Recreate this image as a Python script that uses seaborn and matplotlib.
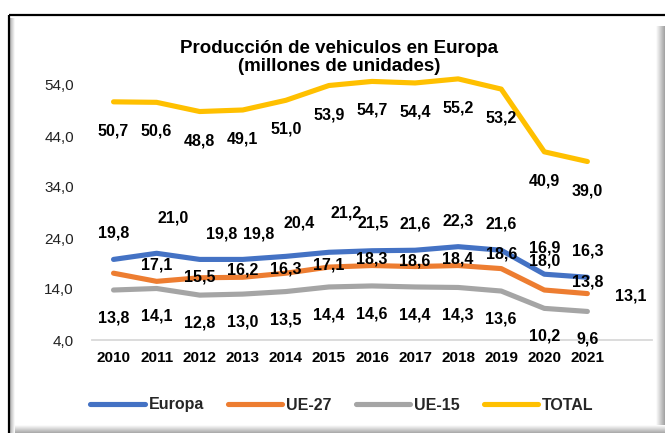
import numpy as np
import pandas as pd
import matplotlib
matplotlib.use("Agg")
import matplotlib.pyplot as plt
import seaborn as sns
from matplotlib.lines import Line2D

# ---- data ----
years = ["2010", "2011", "2012", "2013", "2014", "2015", "2016", "2017", "2018", "2019", "2020", "2021"]
europa = [19.8, 21.0, 19.8, 19.8, 20.4, 21.2, 21.5, 21.6, 22.3, 21.6, 16.9, 16.3]
ue27 = [17.1, 15.5, 16.2, 16.3, 17.1, 18.3, 18.6, 18.4, 18.6, 18.0, 13.8, 13.1]
ue15 = [13.8, 14.1, 12.8, 13.0, 13.5, 14.4, 14.6, 14.4, 14.3, 13.6, 10.2, 9.6]
total = [50.7, 50.6, 48.8, 49.1, 51.0, 53.9, 54.7, 54.4, 55.2, 53.2, 40.9, 39.0]
series_names = ["Europa", "UE-27", "UE-15", "TOTAL"]
yticks = [4.0, 14.0, 24.0, 34.0, 44.0, 54.0]

colors = {"Europa": "#4472C4", "UE-27": "#ED7D31", "UE-15": "#A5A5A5", "TOTAL": "#FFC000"}

rows = []
for name, vals in zip(series_names, [europa, ue27, ue15, total]):
    for i, v in enumerate(vals):
        rows.append({"idx": i, "year": years[i], "serie": name, "valor": v})
df = pd.DataFrame(rows)

sns.set_theme(style="white")
plt.rcParams["font.family"] = ["Liberation Sans", "DejaVu Sans"]

W, H = 665, 433
fig = plt.figure(figsize=(W / 100, H / 100), dpi=100)
fig.patch.set_facecolor("white")

# ---- frame with shadow (figure-level pixel axes) ----
bg = fig.add_axes([0, 0, 1, 1], zorder=-10)
bg.set_xlim(0, W)
bg.set_ylim(H, 0)
bg.axis("off")
cm = matplotlib.colors.LinearSegmentedColormap.from_list
grad = np.linspace(0, 1, 50).reshape(1, -1)
gradv = np.linspace(0, 1, 50).reshape(-1, 1)
bg.imshow(grad, extent=(656, 665, 433, 26), cmap=cm("r", ["#ffffff", "#a0a0a0"]), aspect="auto", zorder=1)
bg.imshow(gradv, extent=(14, 665, 433, 425), cmap=cm("b", ["#ffffff", "#a8a8a8"]), aspect="auto", zorder=1)
bg.imshow(grad, extent=(10, 15, 433, 18), cmap=cm("l", ["#b0b0b0", "#ffffff"]), aspect="auto", zorder=1)
bg.plot([9, 665], [15, 15], color="black", lw=1.6, solid_capstyle="butt", zorder=2)
bg.plot([9, 9], [15, 433], color="black", lw=1.6, solid_capstyle="butt", zorder=2)

# ---- main axes ----
ax = fig.add_axes([92 / W, 93 / H, 560 / W, (378.6 - 93) / H])
ax.set_facecolor("none")
sns.lineplot(data=df, x="idx", y="valor", hue="serie", hue_order=series_names,
             palette=colors, linewidth=3.7, ax=ax, legend=False, sort=False)
for ln in ax.lines:
    ln.set_solid_capstyle("round")
    ln.set_solid_joinstyle("round")
    ln.set_clip_on(False)

ax.set_xlim(-0.5, 12.5)
ax.set_ylim(4.0, 60.0)
ax.set_xticks(range(len(years)))
ax.set_xticklabels(years, fontsize=11, fontweight="bold", color="black")
ax.set_yticks(yticks)
ax.set_yticklabels([f"{t:.1f}".replace(".", ",") for t in yticks], fontsize=11, color="#222222")
ax.tick_params(axis="both", length=0)
ax.tick_params(axis="y", pad=13)
ax.tick_params(axis="x", pad=8)
ax.set_xlabel("")
ax.set_ylabel("")
for s in ["top", "right", "left"]:
    ax.spines[s].set_visible(False)
ax.spines["bottom"].set_color("#D9D9D9")
ax.spines["bottom"].set_linewidth(1.3)

PX = 0.72  # points per pixel


def fmt(v):
    return f"{v:.1f}".replace(".", ",")


lab_kw = dict(textcoords="offset points", ha="center", va="center", fontsize=11.5,
              fontweight="bold", color="black", annotation_clip=False)

# Europa labels: above the line, a few moved by hand in the original
eu_over = {1: (17, 35), 2: (22, 25), 3: (16, 25), 4: (13, 33), 5: (17, 39), 6: (1, 28)}
for i, v in enumerate(europa):
    dx, dy = eu_over.get(i, (0, 26))
    ax.annotate(fmt(v), (i, v), xytext=(dx * PX, dy * PX), **lab_kw)

# UE-27 labels: shifted one category to the right
ue27_over = {1: 4, 6: 4.5, 8: 11.5, 11: -2}
for i, v in enumerate(ue27):
    dy = ue27_over.get(i, 8)
    ax.annotate(fmt(v), (i + 1, v), xytext=(0, dy * PX), **lab_kw)

# UE-15 labels: below
for i, v in enumerate(ue15):
    ax.annotate(fmt(v), (i, v), xytext=(0, -28 * PX), **lab_kw)

# TOTAL labels: below
for i, v in enumerate(total):
    ax.annotate(fmt(v), (i, v), xytext=(0, -29 * PX), **lab_kw)

# ---- title ----
fig.text(339 / W, 1 - 57.5 / H, "Producción de vehiculos en Europa\n(millones de unidades)",
         ha="center", va="center", fontsize=13.5, fontweight="bold", color="black",
         linespacing=1.05)

# ---- legend ----
handles = [Line2D([0], [0], color=colors[n], lw=3.7, solid_capstyle="round") for n in series_names]
leg = fig.legend(handles, series_names, loc="center", bbox_to_anchor=(342 / W, 1 - 405 / H),
                 ncol=4, frameon=False, handlelength=3.4, handletextpad=0.25,
                 columnspacing=1.5, prop={"size": 11.5, "weight": "bold"})

fig.savefig("out.png", dpi=100, facecolor="white")
